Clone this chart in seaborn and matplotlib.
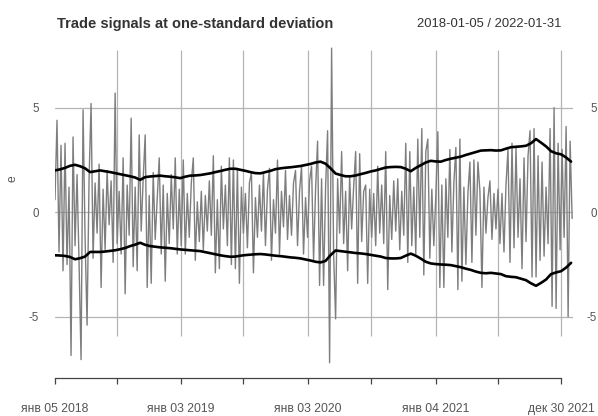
import numpy as np
import pandas as pd
import matplotlib
matplotlib.use('Agg')
import matplotlib.pyplot as plt
import matplotlib.dates as mdates
import seaborn as sns

# residual series e (~every 4th trading day)
e_vals = [
    0.6, 4.4, -1.9, 3.2, -2.8, 3.3, -2.5, 1.2, -6.85, 3.6, -1.6, 1.8, -2.4, -7.05, 4.9, -1.2, -5.4, 1.6, 5.2, -2.2,
    1.4, -1.0, 2.3, -3.6, 1.1, -1.8, 2.0, -0.6, 1.5, -2.4, 5.7, -1.5, 1.0, -2.0, 2.6, -3.9, 1.3, -1.1, 4.5, -2.6,
    1.2, -2.8, 3.7, -0.9, 1.6, 3.7, -3.6, 0.8, -3.4, 1.9, -1.3, 0.7, 2.6, -2.0, 1.3, -3.3, 0.9, -1.5, 1.8, -0.8,
    2.6, -2.0, 1.1, -1.6, 2.5, -2.0, 0.9, -1.2, 1.4, 2.6, -2.3, 0.5, -1.4, 1.0, -1.8, 0.8, -0.9, 1.5, -1.1, 2.7,
    -2.9, 0.6, -2.7, 2.2, -0.8, 1.3, -1.6, 2.6, -2.5, 2.5, -2.7, 2.1, -3.4, 1.2, -1.0, 0.9, -1.7, 1.4, 1.9, -2.9,
    0.7, -1.2, 1.3, -0.9, 1.9, -1.6, 1.1, 2.1, -2.3, 0.6, -1.0, 2.5, -2.0, 1.0, -0.7, 2.0, -1.3, 0.8, -1.1, 1.4,
    2.0, -1.6, 1.0, 2.2, -2.0, 0.7, -1.2, 1.5, 2.2, -2.3, 1.1, 3.4, -3.5, 1.6, -3.5, 1.2, 3.9, -7.2, 7.85, -2.0,
    -5.1, 1.6, -1.0, 2.9, -1.5, 1.0, -2.8, 1.7, -0.8, 1.2, 2.9, -3.4, 2.8, -1.4, 1.0, 1.3, -3.4, 1.1, -1.2, 0.9,
    -1.6, 2.2, -1.0, 1.3, -1.5, 2.9, -3.7, 0.8, -1.3, 1.5, -0.9, 1.6, -1.8, 1.0, -1.1, 3.3, -2.4, 2.9, -1.6, 1.2,
    -2.0, 3.5, -1.2, 4.0, -3.0, 2.9, 3.5, -2.2, 1.1, -1.6, 0.8, 3.85, -3.6, 1.3, -3.6, 1.6, -1.2, 3.0, -1.9, 1.4,
    3.1, -3.7, 3.5, -3.3, 1.2, -2.5, 0.9, 2.4, -2.4, 2.5, -1.1, 2.4, 1.0, -3.6, 1.2, -1.0, 0.7, 1.5, -1.3, 0.9,
    -0.8, 1.1, -1.5, 0.9, -1.9, 1.3, 3.0, -2.4, 3.3, -1.7, 3.1, -1.2, 1.6, -2.7, 2.6, -1.4, 2.7, 3.9, -3.1, 4.0,
    -3.1, 2.7, -2.3, 2.4, -2.1, 1.2, -1.5, 4.0, -4.5, 5.0, -4.6, 3.3, -1.8, 3.0, -1.2, 4.1, -5.0, 3.4, -0.3,
]

# one-standard-deviation bands
upper_vals = [
    2.00, 2.05, 2.12, 2.22, 2.27, 2.20, 2.10, 1.92, 1.96, 2.00, 1.96, 1.92, 1.87, 1.82, 1.77, 1.72, 1.66, 1.55,
    1.68, 1.71, 1.73, 1.75, 1.72, 1.70, 1.67, 1.63, 1.70, 1.75, 1.76, 1.78, 1.82, 1.86, 1.92, 1.97, 2.03, 2.08,
    2.08, 2.03, 1.98, 1.92, 1.87, 1.86, 1.92, 1.98, 2.06, 2.10, 2.13, 2.15, 2.18, 2.21, 2.26, 2.31, 2.38, 2.42,
    2.32, 2.10, 1.85, 1.78, 1.72, 1.72, 1.76, 1.82, 1.88, 1.95, 2.00, 2.07, 2.14, 2.16, 2.17, 2.16, 2.08, 1.96,
    2.12, 2.25, 2.38, 2.46, 2.43, 2.42, 2.50, 2.56, 2.61, 2.66, 2.74, 2.81, 2.88, 2.95, 2.96, 2.97, 2.95, 2.96,
    3.04, 3.11, 3.13, 3.15, 3.18, 3.30, 3.50, 3.33, 3.15, 2.92, 2.82, 2.77, 2.62, 2.42,
]
lower_vals = [
    -2.06, -2.07, -2.09, -2.14, -2.25, -2.20, -2.12, -1.90, -1.90, -1.90, -1.88, -1.85, -1.82, -1.77, -1.71, -1.62,
    -1.55, -1.46, -1.56, -1.62, -1.65, -1.68, -1.70, -1.72, -1.75, -1.78, -1.80, -1.82, -1.84, -1.86, -1.91, -1.96,
    -2.01, -2.06, -2.10, -2.13, -2.12, -2.08, -2.05, -2.03, -2.01, -2.00, -2.02, -2.05, -2.08, -2.10, -2.13, -2.16,
    -2.18, -2.21, -2.26, -2.31, -2.37, -2.40, -2.33, -2.05, -1.83, -1.86, -1.89, -1.92, -1.95, -1.97, -2.00, -2.04,
    -2.08, -2.12, -2.19, -2.21, -2.21, -2.19, -2.08, -1.98, -2.08, -2.22, -2.37, -2.45, -2.48, -2.50, -2.51, -2.53,
    -2.58, -2.63, -2.70, -2.76, -2.84, -2.90, -2.92, -2.90, -2.93, -2.96, -3.06, -3.09, -3.11, -3.18, -3.25, -3.40,
    -3.52, -3.38, -3.22, -2.96, -2.88, -2.82, -2.65, -2.42,
]

tick_dates = ['2018-01-05', '2018-07-02', '2019-01-03', '2019-07-01', '2020-01-03',
              '2020-07-01', '2021-01-04', '2021-07-01', '2021-12-30']
tick_labels = ['янв 05 2018', '', 'янв 03 2019', '', 'янв 03 2020',
               '', 'янв 04 2021', '', 'дек 30 2021']

dates_e = pd.date_range('2018-01-05', '2022-01-31', periods=len(e_vals))
dates_b = pd.date_range('2018-01-05', '2022-01-28', periods=len(upper_vals))
df_e = pd.DataFrame({'date': dates_e, 'e': e_vals})
df_b = pd.DataFrame({'date': dates_b, 'upper': upper_vals, 'lower': lower_vals})

sns.set_style('white')
plt.rcParams['font.family'] = ['Liberation Sans', 'DejaVu Sans']

W, H = 598, 416
fig = plt.figure(figsize=(W / 100, H / 100), dpi=100)
ax = fig.add_axes([55 / W, (H - 378) / H, (573 - 55) / W, (378 - 45) / H])

grid_col = '#b4b4b4'
text_col = '#555555'
ticks = pd.to_datetime(tick_dates)
x0 = mdates.date2num(ticks[0])
days_per_px = (mdates.date2num(ticks[-1]) - x0) / (561 - 55)
ax.set_xlim(x0, x0 + 518 * days_per_px)
ax.set_ylim(-7.93, 8.0)

for yv in [-5, 0, 5]:
    ax.axhline(yv, color=grid_col, lw=0.9, zorder=1)
ax.vlines(ticks[1:], -5.94, 7.76, color=grid_col, lw=0.9, zorder=1)

sns.lineplot(data=df_e, x='date', y='e', color='#7e7e7e', lw=1.0, ax=ax, zorder=2)
sns.lineplot(data=df_b, x='date', y='upper', color='black', lw=1.9, ax=ax, zorder=3)
sns.lineplot(data=df_b, x='date', y='lower', color='black', lw=1.9, ax=ax, zorder=3)

for s in ['top', 'left', 'right']:
    ax.spines[s].set_visible(False)
ax.spines['bottom'].set_bounds(mdates.date2num(ticks[0]), mdates.date2num(ticks[-1]))
ax.spines['bottom'].set_color('#444444')
ax.spines['bottom'].set_linewidth(0.9)

ax.set_xticks(ticks)
ax.set_xticklabels(tick_labels)
ax.tick_params(axis='x', bottom=True, direction='out', length=4.3, width=0.9, color='#444444',
               pad=14, labelsize=8.7, labelcolor=text_col)

ax.set_yticks([-5, 0, 5])
ax.set_yticklabels(['-5', '0', '5'])
ax.tick_params(axis='y', left=False, right=False, length=0, pad=0, labelsize=8.3,
               labelcolor=text_col, labelleft=True, labelright=True)
for t in ax.yaxis.get_major_ticks():
    t.label2.set_horizontalalignment('right')
    t.label2.set_x(1.0 + 24 / (573 - 55))
    t.label1.set_x(-16 / (573 - 55))

ax.set_xlabel('')
ax.set_ylabel('')
fig.text(13 / W, 1 - 179 / H, 'e', rotation=90, ha='center', va='center',
         fontsize=8.7, color=text_col)
fig.text(57 / W, 1 - 24 / H, 'Trade signals at one-standard deviation', ha='left', va='center',
         fontsize=10.5, fontweight='bold', color='#333333')
fig.text(561 / W, 1 - 24 / H, '2018-01-05 / 2022-01-31', ha='right', va='center',
         fontsize=9.4, color='#333333')

fig.savefig('out.png', dpi=100)
